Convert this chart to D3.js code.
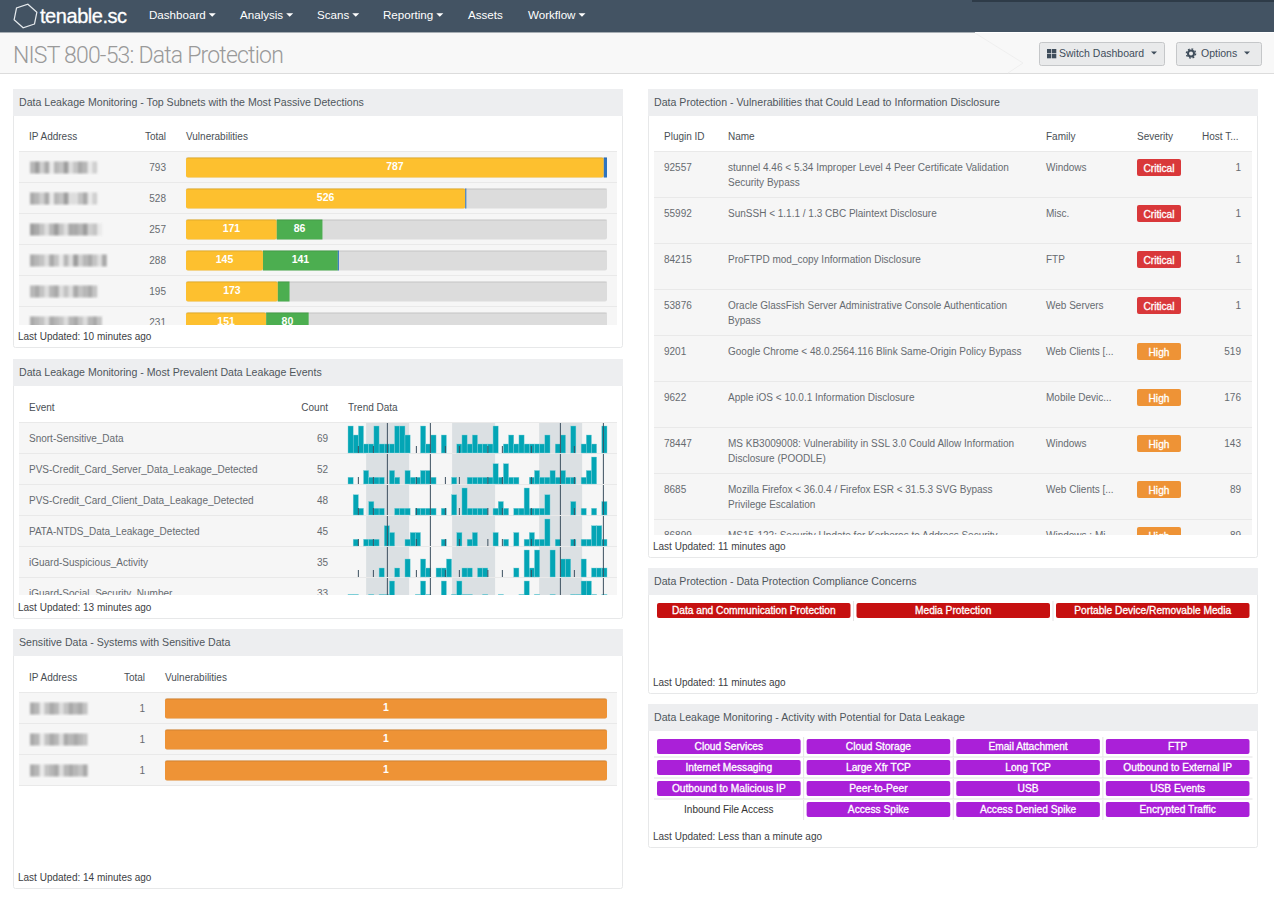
<!DOCTYPE html>
<html>
<head>
<meta charset="utf-8">
<script src="https://cdn.jsdelivr.net/npm/d3@7"></script>
<style>
  html, body { margin: 0; padding: 0; background: #fff; }
  svg { display: block; font-family: "Liberation Sans", Arial, sans-serif; font-size: 10px; }
</style>
</head>
<body>
<svg id="page" width="1274" height="903"></svg>
<script>
// Dashboard values
const subnets = [
  { ip: '46250436135402', total: 793, parts: [['yellow', 787], ['blue', 6]] },
  { ip: '54250436113502', total: 528, parts: [['yellow', 526], ['blue', 2]] },
  { ip: '653146315546230', total: 257, parts: [['yellow', 171], ['green', 86]] },
  { ip: '5431530416245315', total: 288, parts: [['yellow', 145], ['green', 141], ['blue', 2]] },
  { ip: '45314513153453', total: 195, parts: [['yellow', 173], ['green', 22]] },
  { ip: '543154314531453', total: 231, parts: [['yellow', 151], ['green', 80]] }
];

const sensitive = [
  { ip: '540354135453', total: 1, parts: [['orange', 1]] },
  { ip: '540354154543', total: 1, parts: [['orange', 1]] },
  { ip: '540345145435', total: 1, parts: [['orange', 1]] }
];

const leakEvents = [
  { name: 'Snort-Sensitive_Data', count: 69, trend: [3,2,3,1,1,3,1,1,1,3, 3,2,0,0,3,1,2,0,2,0, 0,1,2,1,2,1,1,1,3,0, 1,2,1,2,1,1,1,1,2,0, 1,2,0,3,0,1,2,1,0,3] },
  { name: 'PVS-Credit_Card_Server_Data_Leakage_Detected', count: 52, trend: [1,0,0,2,1,1,1,0,2,1, 0,2,1,1,2,2,1,0,0,0, 1,0,0,1,1,1,1,1,3,1, 3,1,1,0,0,1,2,1,1,2, 1,2,1,1,0,1,2,4,0,0] },
  { name: 'PVS-Credit_Card_Client_Data_Leakage_Detected', count: 48, trend: [0,3,1,0,2,1,1,0,0,1, 1,1,0,1,1,1,1,0,1,0, 3,0,4,1,1,1,1,0,1,2, 1,0,1,1,4,1,1,1,3,0, 0,0,0,2,0,1,0,1,0,2] },
  { name: 'PATA-NTDS_Data_Leakage_Detected', count: 45, trend: [0,1,0,1,1,1,0,3,2,0, 0,1,2,2,0,0,0,0,1,0, 0,2,0,1,2,0,0,0,2,0, 1,0,2,0,1,2,1,1,4,0, 1,0,0,1,0,1,1,3,3,1] },
  { name: 'iGuard-Suspicious_Activity', count: 35, trend: [0,0,0,0,0,0,1,0,0,1, 0,2,0,0,2,1,0,1,1,2, 0,0,1,1,0,1,1,0,0,0, 0,0,1,0,3,1,3,0,0,3, 0,2,2,0,0,2,0,1,1,1] },
  { name: 'iGuard-Social_Security_Number', count: 33, trend: [2,2,0,0,2,0,2,2,4,0, 0,0,0,2,4,2,0,0,4,0, 2,4,2,2,0,0,2,0,0,2, 0,0,0,2,4,0,2,0,0,2, 0,0,0,2,2,4,4,2,0,2] }
];
// weekend bands and event markers on the sparkline's x axis, in bar units
const trendBands = [[3.5, 11.8], [20.1, 28.4], [36.9, 45.2]];
const trendTall = [7.6, 15.9, 41, 49.3];
const trendShort = [2, 4.9, 13.2, 18.8, 21.5, 27, 29.8, 35.4, 43.7];

const plugins = [
  { id: '92557', name: ['stunnel 4.46 < 5.34 Improper Level 4 Peer Certificate Validation', 'Security Bypass'], family: 'Windows', severity: 'Critical', hosts: 1 },
  { id: '55992', name: ['SunSSH < 1.1.1 / 1.3 CBC Plaintext Disclosure'], family: 'Misc.', severity: 'Critical', hosts: 1 },
  { id: '84215', name: ['ProFTPD mod_copy Information Disclosure'], family: 'FTP', severity: 'Critical', hosts: 1 },
  { id: '53876', name: ['Oracle GlassFish Server Administrative Console Authentication', 'Bypass'], family: 'Web Servers', severity: 'Critical', hosts: 1 },
  { id: '9201', name: ['Google Chrome < 48.0.2564.116 Blink Same-Origin Policy Bypass'], family: 'Web Clients [...', severity: 'High', hosts: 519 },
  { id: '9622', name: ['Apple iOS < 10.0.1 Information Disclosure'], family: 'Mobile Devic...', severity: 'High', hosts: 176 },
  { id: '78447', name: ['MS KB3009008: Vulnerability in SSL 3.0 Could Allow Information', 'Disclosure (POODLE)'], family: 'Windows', severity: 'High', hosts: 143 },
  { id: '8685', name: ['Mozilla Firefox < 36.0.4 / Firefox ESR < 31.5.3 SVG Bypass', 'Privilege Escalation'], family: 'Web Clients [...', severity: 'High', hosts: 89 },
  { id: '86899', name: ['MS15-122: Security Update for Kerberos to Address Security'], family: 'Windows : Mi', severity: 'High', hosts: 89 }
];

const compliance = ['Data and Communication Protection', 'Media Protection', 'Portable Device/Removable Media'];

const activity = [
  ['Cloud Services', 'Cloud Storage', 'Email Attachment', 'FTP'],
  ['Internet Messaging', 'Large Xfr TCP', 'Long TCP', 'Outbound to External IP'],
  ['Outbound to Malicious IP', 'Peer-to-Peer', 'USB', 'USB Events'],
  ['Inbound File Access', 'Access Spike', 'Access Denied Spike', 'Encrypted Traffic']
];
const inactive = new Set(['Inbound File Access']);

const colors = { yellow: '#fdc02f', green: '#4cae50', blue: '#2f74c0', orange: '#ee9336', Critical: '#d9383a', High: '#ee9336' };
const textDark = '#4a4f55', textGrey = '#666b70';

const svg = d3.select('#page');
const defs = svg.append('defs');
defs.append('filter').attr('id', 'blur').attr('x', '-10%').attr('width', '120%')
  .append('feGaussianBlur').attr('stdDeviation', 1);

function label(g, x, y, str, opts = {}) {
  const t = g.append('text')
    .attr('x', x).attr('y', y).attr('dy', '0.35em')
    .attr('text-anchor', opts.anchor || 'start')
    .attr('fill', opts.fill || textDark)
    .style('font-size', opts.size ? opts.size + 'px' : null)
    .style('font-weight', opts.weight || null)
    .text(str);
  // white-on-colour labels look semi-bold in the original
  if (opts.strong) t.attr('stroke', opts.fill).attr('stroke-width', 0.3);
  return t;
}

function caret(g, x, y, fill, size = 3.5) {
  g.append('path').attr('d', `M${x},${y - size / 2}h${size * 2}l${-size},${size}z`).attr('fill', fill);
}

// top nav
const nav = svg.append('g');
nav.append('rect').attr('width', 1274).attr('height', 32).attr('fill', '#435363');
nav.append('rect').attr('x', 972).attr('width', 302).attr('height', 2).attr('fill', '#2e3b48');
nav.append('rect').attr('y', 32).attr('width', 975).attr('height', 1).attr('fill', '#a7aeb4');
const hex = d3.range(6).map(i => {
  const a = Math.PI / 6 + i * Math.PI / 3 + 0.2;
  return [25.5 + 12 * Math.cos(a), 16 + 12 * Math.sin(a)];
});
nav.append('path').attr('d', d3.line().curve(d3.curveLinearClosed)(hex))
  .attr('fill', 'none').attr('stroke', '#e6eaed').attr('stroke-width', 1.2);
label(nav, 40, 16, 'tenable.sc', { fill: '#fff', size: 20, strong: true }).style('letter-spacing', '-0.45px');
const menu = [['Dashboard', 149, true], ['Analysis', 240, true], ['Scans', 317, true], ['Reporting', 383, true], ['Assets', 468, false], ['Workflow', 528, true]];
menu.forEach(([name, x, hasCaret]) => {
  const t = label(nav, x, 15, name, { fill: '#fff', size: 11.6 });
  if (hasCaret) caret(nav, x + t.node().getComputedTextLength() + 3, 15, '#fff');
});

// title bar
const bar = svg.append('g');
bar.append('rect').attr('y', 33).attr('width', 1274).attr('height', 40).attr('fill', '#f8f8f8');
bar.append('rect').attr('y', 73).attr('width', 1274).attr('height', 1).attr('fill', '#dcdcdc');
bar.append('path').attr('d', 'M975,33L1023,63L1008,73').attr('fill', 'none').attr('stroke', '#efefef');
bar.append('text').attr('x', 13).attr('y', 55).attr('dy', '0.35em').attr('fill', '#9a9a9a')
  .style('font-family', 'Roboto, sans-serif').style('font-weight', 300).style('font-size', '23px')
  .style('letter-spacing', '-0.8px')
  .text('NIST 800-53: Data Protection');

function button(x, w, str, textX, caretX) {
  const g = bar.append('g');
  g.append('rect').attr('x', x + 0.5).attr('y', 42.5).attr('width', w).attr('height', 23).attr('rx', 2)
    .attr('fill', '#e9eaeb').attr('stroke', '#c5c7c9');
  label(g, textX, 53.5, str, { fill: '#3f4d5b', size: 10.5 });
  caret(g, caretX, 53, '#3f4d5b', 3);
  return g;
}
const sw = button(1039, 125, 'Switch Dashboard', 1059, 1151);
d3.cross([0, 1], [0, 1]).forEach(([i, j]) => {
  sw.append('rect').attr('x', 1047 + i * 5).attr('y', 49 + j * 5).attr('width', 4.3).attr('height', 4.3).attr('fill', '#3f4d5b');
});
const op = button(1176, 85, 'Options', 1201, 1244);
op.append('circle').attr('cx', 1191).attr('cy', 53.5).attr('r', 3).attr('fill', 'none')
  .attr('stroke', '#3f4d5b').attr('stroke-width', 2);
op.append('circle').attr('cx', 1191).attr('cy', 53.5).attr('r', 4.6).attr('fill', 'none')
  .attr('stroke', '#3f4d5b').attr('stroke-width', 1.4).attr('stroke-dasharray', '1.8 1.8');

// card frame; returns group for the body
function panel(x, y, w, h, title, updated) {
  const g = svg.append('g');
  g.append('rect').attr('x', x + 0.5).attr('y', y + 0.5).attr('width', w).attr('height', h).attr('rx', 2)
    .attr('fill', '#fff').attr('stroke', '#e7e8e9');
  g.append('rect').attr('x', x).attr('y', y).attr('width', w + 1).attr('height', 27).attr('fill', '#edeef0');
  label(g, x + 6, y + 13.5, title, { fill: '#4f565c', size: 10.6 });
  label(g, x + 5, y + h - 10.5, 'Last Updated: ' + updated, { fill: '#3c4044' });
  return g;
}

function clipped(g, id, x, y, w, h) {
  defs.append('clipPath').attr('id', id).append('rect').attr('x', x).attr('y', y).attr('width', w).attr('height', h);
  return g.append('g').attr('clip-path', `url(#${id})`);
}

// striped table rows, from a band scale
function rowStripes(g, y, x0, x1) {
  g.selectAll('.stripe').data(y.domain()).enter().append('rect')
    .attr('class', 'stripe').attr('x', x0).attr('y', d => y(d)).attr('width', x1 - x0).attr('height', y.bandwidth())
    .attr('fill', '#f6f6f6');
  g.selectAll('.rule').data(y.domain()).enter().append('rect')
    .attr('class', 'rule').attr('x', x0).attr('y', d => y(d) - 1).attr('width', x1 - x0).attr('height', 1)
    .attr('fill', '#e9e9e9');
  g.append('rect').attr('x', x0).attr('y', y.range()[1] - 1).attr('width', x1 - x0).attr('height', 1).attr('fill', '#e9e9e9');
}

// IP addresses are pixelated out in the source
function redacted(g, x, cy, code) {
  const b = g.append('g').attr('filter', 'url(#blur)');
  b.selectAll('rect').data(code.split('').map(Number)).enter().append('rect')
    .attr('x', (d, i) => x + i * 4.8).attr('y', cy - 6).attr('width', 4.8).attr('height', 12)
    .attr('fill', '#777').attr('opacity', d => 0.1 + d / 10);
}

function barTable(opts) {
  const { top, data, barX0, barX1, totalX, max, clipId, clipH } = opts;
  const g = opts.g;
  label(g, 29, top - 16, 'IP Address');
  label(g, totalX, top - 16, 'Total', { anchor: 'end' });
  label(g, barX0, top - 16, 'Vulnerabilities');

  const y = d3.scaleBand().domain(d3.range(data.length)).range([top, top + 31 * data.length]);
  const x = d3.scaleLinear().domain([0, max]).range([barX0, barX1]);
  const body = clipped(g, clipId, 15, top - 2, 606, clipH);
  rowStripes(body, y, 19, 617);

  data.forEach((row, i) => {
    const cy = y(i) + 15.5;
    redacted(body, 30, cy, row.ip);
    label(body, totalX, cy, row.total, { anchor: 'end', fill: textGrey });

    body.append('rect').attr('x', barX0).attr('y', cy - 10).attr('width', barX1 - barX0).attr('height', 20)
      .attr('rx', 2).attr('fill', '#dcdcdc');
    let acc = 0;
    row.parts.forEach(([color, value]) => {
      body.append('rect').attr('x', x(acc)).attr('y', cy - 10).attr('width', x(acc + value) - x(acc)).attr('height', 20)
        .attr('rx', acc === 0 ? 2 : 0).attr('fill', colors[color]);
      // small slices carry no label
      if (x(value) - x(0) > 30) {
        label(body, (x(acc) + x(acc + value)) / 2, cy - 1, value, { anchor: 'middle', fill: '#fff', weight: 'bold', size: 10.5 });
      }
      acc += value;
    });
    body.append('rect').attr('x', barX0).attr('y', cy - 10).attr('width', barX1 - barX0).attr('height', 1)
      .attr('fill', '#000').attr('opacity', 0.1);
  });
}

// left column
const p1 = panel(13, 89, 609, 258, 'Data Leakage Monitoring - Top Subnets with the Most Passive Detections', '10 minutes ago');
barTable({ g: p1, top: 152, data: subnets, barX0: 186, barX1: 607, totalX: 166, max: d3.max(subnets, d => d.total), clipId: 'clip-subnets', clipH: 175 });

const p2 = panel(13, 359, 609, 259, 'Data Leakage Monitoring - Most Prevalent Data Leakage Events', '13 minutes ago');
label(p2, 29, 407, 'Event');
label(p2, 328, 407, 'Count', { anchor: 'end' });
label(p2, 348, 407, 'Trend Data');

const eventY = d3.scaleBand().domain(d3.range(leakEvents.length)).range([423, 423 + 31 * leakEvents.length]);
const trendX = d3.scaleLinear().domain([0, 50]).range([348, 607]);
const eventBody = clipped(p2, 'clip-events', 15, 421, 606, 174);
rowStripes(eventBody, eventY, 19, 617);

leakEvents.forEach((ev, i) => {
  const top = eventY(i), base = top + 30;
  const trendY = d3.scaleLinear().domain([0, d3.max(ev.trend)]).range([base, base - 27]);
  const row = eventBody.append('g');
  label(row, 29, top + 15.5, ev.name, { fill: textGrey });
  label(row, 328, top + 15.5, ev.count, { anchor: 'end', fill: textGrey });

  row.selectAll('.band').data(trendBands).enter().append('rect')
    .attr('class', 'band').attr('x', d => trendX(d[0])).attr('y', top)
    .attr('width', d => trendX(d[1]) - trendX(d[0])).attr('height', 30).attr('fill', '#dbe0e3');
  row.selectAll('.spark').data(ev.trend).enter().append('rect')
    .attr('class', 'spark').attr('x', (d, k) => trendX(k)).attr('y', d => trendY(d))
    .attr('width', trendX(1) - trendX(0)).attr('height', d => base - trendY(d))
    .attr('fill', '#03a5b5').attr('stroke', '#7fd0d9').attr('stroke-width', d => d ? 0.4 : 0);
  row.selectAll('.short').data(trendShort).enter().append('rect')
    .attr('class', 'short').attr('x', d => trendX(d) - 0.5).attr('y', base - 7).attr('width', 1).attr('height', 7)
    .attr('fill', '#3d5060');
  row.selectAll('.tall').data(trendTall).enter().append('rect')
    .attr('class', 'tall').attr('x', d => trendX(d) - 0.5).attr('y', top).attr('width', 1).attr('height', 30)
    .attr('fill', '#3d5060');
});

const p3 = panel(13, 629, 609, 259, 'Sensitive Data - Systems with Sensitive Data', '14 minutes ago');
barTable({ g: p3, top: 693, data: sensitive, barX0: 165, barX1: 607, totalX: 145, max: 1, clipId: 'clip-sensitive', clipH: 160 });

// right column
const p4 = panel(648, 89, 609, 468, 'Data Protection - Vulnerabilities that Could Lead to Information Disclosure', '11 minutes ago');
[['Plugin ID', 664], ['Name', 728], ['Family', 1046], ['Severity', 1137], ['Host T...', 1202]].forEach(([t, x]) => label(p4, x, 136, t));

const pluginY = d3.scaleBand().domain(d3.range(plugins.length)).range([152, 152 + 46 * plugins.length]);
const pluginBody = clipped(p4, 'clip-plugins', 650, 150, 606, 385);
rowStripes(pluginBody, pluginY, 654, 1252);

plugins.forEach((d, i) => {
  const top = pluginY(i);
  label(pluginBody, 664, top + 15.5, d.id, { fill: textGrey });
  d.name.forEach((line, k) => label(pluginBody, 728, top + 15.5 + k * 15, line, { fill: textGrey }));
  label(pluginBody, 1046, top + 15.5, d.family, { fill: textGrey });
  pluginBody.append('rect').attr('x', 1137).attr('y', top + 7).attr('width', 44).attr('height', 17).attr('rx', 2)
    .attr('fill', colors[d.severity]);
  label(pluginBody, 1159, top + 16, d.severity, { anchor: 'middle', fill: '#fff', size: 10.2, strong: true });
  label(pluginBody, 1241, top + 15.5, d.hosts, { anchor: 'end', fill: textGrey });
});

// status matrix cells
function matrix(g, rows, x0, x1, y0, cellH, rowStep, fill) {
  const cols = rows[0].length, gap = 6;
  const x = d3.scaleBand().domain(d3.range(cols)).range([x0, x1])
    .paddingInner(gap / ((x1 - x0 + gap) / cols));
  rows.forEach((row, r) => {
    const top = y0 + r * rowStep;
    row.forEach((name, c) => {
      const mid = x(c) + x.bandwidth() / 2;
      if (inactive.has(name)) {
        label(g, mid, top + cellH / 2, name, { anchor: 'middle', fill: '#333' });
        return;
      }
      g.append('rect').attr('x', x(c)).attr('y', top).attr('width', x.bandwidth()).attr('height', cellH).attr('rx', 2).attr('fill', fill);
      label(g, mid, top + cellH / 2, name, { anchor: 'middle', fill: '#fff', size: 10.2, strong: true });
    });
    // dividers between columns
    d3.range(1, cols).forEach(c => {
      g.append('rect').attr('x', x(c) - gap / 2 - 0.5).attr('y', top - 2).attr('width', 1).attr('height', cellH + 5).attr('fill', '#e4e4e4');
    });
    if (r > 0) g.append('rect').attr('x', x0 - 3).attr('y', top - 3.5).attr('width', x1 - x0 + 6).attr('height', 1).attr('fill', '#e4e4e4');
  });
}

const p5 = panel(648, 568, 609, 125, 'Data Protection - Data Protection Compliance Concerns', '11 minutes ago');
matrix(p5, [compliance], 657, 1249.5, 603, 15, 21, '#c61010');

const p6 = panel(648, 704, 609, 143, 'Data Leakage Monitoring - Activity with Potential for Data Leakage', 'Less than a minute ago');
matrix(p6, activity, 657, 1249.5, 739, 15, 21, '#aa20d8');
</script>
</body>
</html>
